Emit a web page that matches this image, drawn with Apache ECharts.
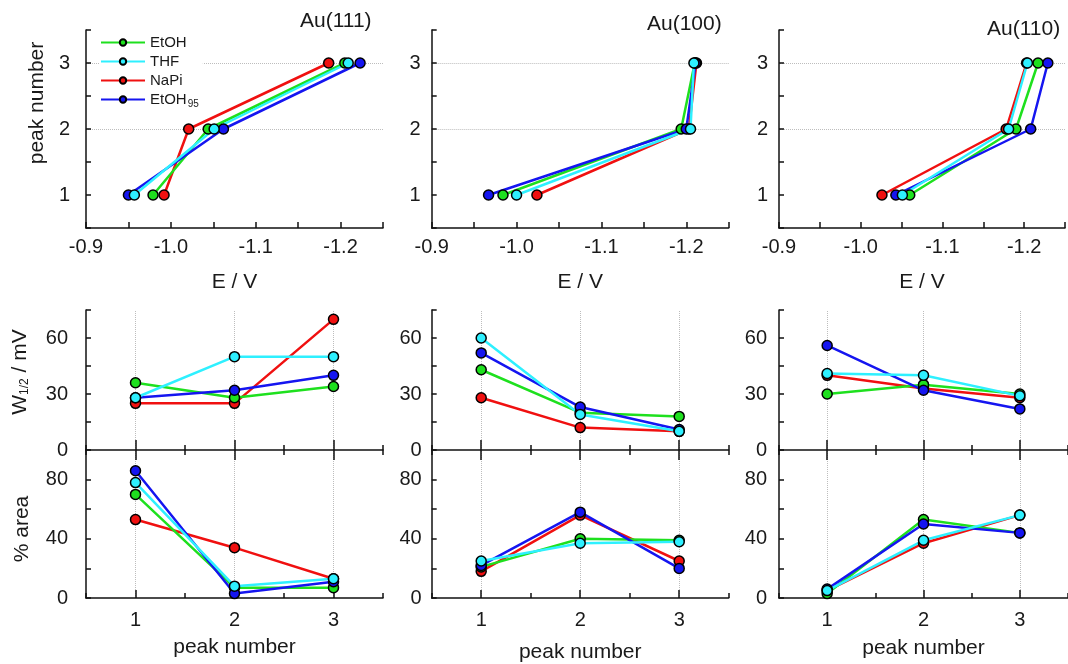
<!DOCTYPE html>
<html>
<head>
<meta charset="utf-8">
<script src="https://cdn.jsdelivr.net/npm/echarts@6/dist/echarts.min.js"></script>
<style>
  html, body { margin: 0; background: #fff; }
  #chart { width: 1068px; height: 664px; }
</style>
</head>
<body>
<div id="chart"></div>
<script>
const solvents = ['EtOH', 'THF', 'NaPi', 'EtOH95']
const colors   = ['#1ee01e', '#2ef0ff', '#f01010', '#1515f0']
const peaks    = ['1', '2', '3']
const surfaces = ['Au(111)', 'Au(100)', 'Au(110)']
// drawing order of the solvents (last one on top)
const drawOrder = [2, 0, 3, 1]

// peak potentials E / V for peaks 1..3, one row per solvent
const e111 = [[-0.979, -1.044, -1.205], [-0.957, -1.051, -1.209], [-0.992, -1.021, -1.186], [-0.950, -1.062, -1.223]]
const e100 = [[-0.984, -1.194, -1.210], [-1.000, -1.205, -1.209], [-1.024, -1.203, -1.212], [-0.967, -1.200, -1.211]]
const e110 = [[-1.060, -1.190, -1.217], [-1.051, -1.181, -1.204], [-1.026, -1.178, -1.203], [-1.043, -1.208, -1.229]]

// half widths W1/2 / mV
const w111 = [[36, 28, 34], [28, 50, 50], [25, 25, 70], [28, 32, 40]]
const w100 = [[43, 20, 18], [60, 19, 10], [28, 12, 10], [52, 23, 11]]
const w110 = [[30, 35, 30], [41, 40, 29], [40, 33, 28], [56, 32, 22]]

// % area
const a111 = [[70, 7, 7], [78, 8, 13], [53, 34, 13], [86, 3, 11]]
const a100 = [[21, 40, 39], [25, 37, 38], [18, 56, 25], [22, 58, 20]]
const a110 = [[3, 53, 44], [5, 39, 56], [5, 37, 56], [6, 50, 44]]

const eData = [e111, e100, e110]
const wData = [w111, w100, w110]
const aData = [a111, a100, a110]

const FONT = '"Liberation Sans", Arial, sans-serif'
const INK  = '#1a1a1a'
const cols = [86, 431.7, 779]
const W    = 297
const yLabelMargin = [[16, 18], [11, 10], [11, 12]]
const titlePos = [[300, 11], [647, 14], [987, 19]]
const peakNameGap = [39, 44, 40]

const grid = [], xAxis = [], yAxis = [], series = []
const line = { show: true, lineStyle: { color: '#111', width: 1.5 } }
const tick = (inside, length, align) => ({
  show: true, inside, length, alignWithLabel: align, interval: 0,
  lineStyle: { color: '#111', width: 1.5 },
})
const lbl = (extra) => Object.assign({ color: INK, fontFamily: FONT, fontSize: 20 }, extra)
const nameStyle = (pad) => ({
  color: INK, fontFamily: FONT, fontSize: 21, padding: pad,
  rich: { a: { fontSize: 21, fontFamily: FONT, color: INK },
          s: { fontSize: 12, fontFamily: FONT, color: INK, padding: [10, 0, 0, 0] } },
})
const dotted = { color: '#bdbdbd', type: 'dotted', width: 1 }

function addGrid(left, top, height) {
  grid.push({ left, top, width: W, height })
  return grid.length - 1
}
function catX(gi, position, extra) {
  xAxis.push(Object.assign({
    type: 'category', gridIndex: gi, position, data: peaks, boundaryGap: true,
    axisLine: { show: false }, axisLabel: { show: false }, axisTick: { show: false },
    splitLine: { show: false },
  }, extra))
  return xAxis.length - 1
}
function hiddenY(gi) {
  yAxis.push({ type: 'value', gridIndex: gi, show: false, min: 0, max: 1 })
  return yAxis.length - 1
}
function addLines(xi, yi, rows, toPoint, mark) {
  drawOrder.forEach((s, k) => {
    series.push({
      name: solvents[s], type: 'line', xAxisIndex: xi, yAxisIndex: yi,
      data: rows[s].map(toPoint),
      symbol: 'circle', symbolSize: 10,
      itemStyle: { color: colors[s], borderColor: '#000', borderWidth: 1.5 },
      lineStyle: { color: colors[s], width: 2.5 },
      emphasis: { disabled: true },
      // grid lines sit under the markers
      markLine: k === 0 ? { silent: true, z: 0, symbol: 'none', label: { show: false },
        lineStyle: dotted, data: mark } : undefined,
    })
  })
}

cols.forEach((left, c) => {
  // top row: peak number vs E
  const gT = addGrid(left, 30, 198)
  xAxis.push({
    type: 'value', gridIndex: gT, inverse: true, min: -1.25, max: -0.9, interval: 0.05,
    axisLine: line, axisTick: tick(true, 6), splitLine: { show: false },
    axisLabel: lbl({ margin: 9, showMinLabel: true,
      formatter: v => Math.abs(v * 10 - Math.round(v * 10)) < 1e-6 ? v.toFixed(1) : '' }),
    name: 'E / V', nameLocation: 'middle', nameGap: 44, nameTextStyle: nameStyle(0),
  })
  const xT = xAxis.length - 1
  yAxis.push({
    type: 'value', gridIndex: gT, min: 0.5, max: 3.5, interval: 0.5,
    axisLine: line, axisTick: tick(true, 5), splitLine: { show: false },
    axisLabel: lbl({ margin: yLabelMargin[c][0], formatter: v => Number.isInteger(v) ? String(v) : '' }),
    name: c === 0 ? 'peak number' : '', nameLocation: 'middle', nameGap: 38,
    nameTextStyle: nameStyle([0, 0, 0, 52]),
  })
  addLines(xT, yAxis.length - 1, eData[c], (e, i) => [e, i + 1], [{ yAxis: 2 }, { yAxis: 3 }])

  // middle row: W1/2
  const gM = addGrid(left, 310, 140)
  const xM = catX(gM, 'bottom', { axisLine: line, axisTick: tick(false, 10, true) })
  yAxis.push({
    type: 'value', gridIndex: gM, min: 0, max: 75, interval: 15,
    axisLine: line, axisTick: tick(true, 5), splitLine: { show: false },
    axisLabel: lbl({ margin: yLabelMargin[c][1], formatter: v => v % 30 === 0 ? String(v) : '' }),
    name: c === 0 ? '{a|W}{s|1/2}{a| / mV}' : '', nameLocation: 'middle', nameGap: 55,
    nameTextStyle: nameStyle([0, 0, 0, 16]),
  })
  addLines(xM, yAxis.length - 1, wData[c], v => v, peaks.map(p => ({ xAxis: p })))
  const gM2 = addGrid(left, 310, 140)
  catX(gM2, 'bottom', { axisTick: tick(false, 5, false) })
  hiddenY(gM2)

  // bottom row: % area
  const gB = addGrid(left, 450, 148)
  const xB = catX(gB, 'bottom', {
    axisLine: line, axisTick: tick(true, 8, true),
    axisLabel: lbl({ show: true, margin: 12 }),
    name: 'peak number', nameLocation: 'middle', nameGap: peakNameGap[c], nameTextStyle: nameStyle(0),
  })
  catX(gB, 'top', { axisTick: tick(false, 10, true) })
  yAxis.push({
    type: 'value', gridIndex: gB, min: 0, max: 100, interval: 20,
    axisLine: line, axisTick: tick(true, 5), splitLine: { show: false },
    axisLabel: lbl({ margin: yLabelMargin[c][1], formatter: v => v % 40 === 0 && v < 100 ? String(v) : '' }),
    name: c === 0 ? '% area' : '', nameLocation: 'middle', nameGap: 53,
    nameTextStyle: nameStyle([0, 10, 0, 0]),
  })
  addLines(xB, yAxis.length - 1, aData[c], v => v, peaks.map(p => ({ xAxis: p })))
  const gB2 = addGrid(left, 450, 148)
  catX(gB2, 'bottom', { axisTick: tick(true, 5, false) })
  catX(gB2, 'top', { axisTick: tick(false, 5, false) })
  hiddenY(gB2)
})

const chart = echarts.init(document.getElementById('chart'))
chart.setOption({
  backgroundColor: '#fff',
  animation: false,
  title: surfaces.map((t, i) => ({
    text: t, left: titlePos[i][0], top: titlePos[i][1], padding: 0,
    textStyle: { fontFamily: FONT, fontSize: 21, fontWeight: 'normal', color: INK },
  })),
  legend: {
    data: solvents, orient: 'vertical', left: 100, top: 35, padding: [0, 4, 0, 0],
    backgroundColor: '#fff',
    itemWidth: 44, itemHeight: 8, itemGap: 4,
    textStyle: {
      fontFamily: FONT, fontSize: 15, color: INK,
      rich: { a: { fontFamily: FONT, fontSize: 15, color: INK },
              s: { fontFamily: FONT, fontSize: 10, color: INK, padding: [9, 0, 0, 1] } },
    },
    formatter: n => n === 'EtOH95' ? '{a|EtOH}{s|95}' : n,
    selectedMode: false,
  },
  grid, xAxis, yAxis, series,
})
</script>
</body>
</html>
